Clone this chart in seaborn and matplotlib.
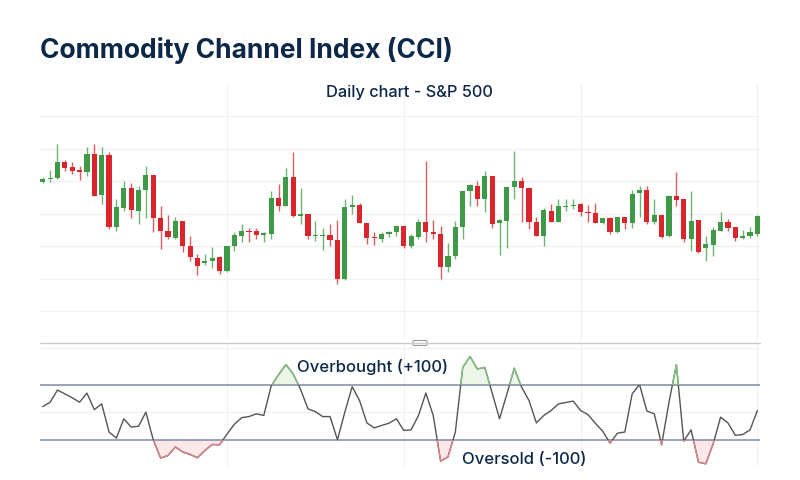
import numpy as np
import matplotlib
matplotlib.use("Agg")
import matplotlib.pyplot as plt
from matplotlib.lines import Line2D
from matplotlib.patches import Rectangle, FancyBboxPatch
import pandas as pd
import seaborn as sns

TITLE = "Commodity Channel Index (CCI)"
SUBTITLE = "Daily chart - S&P 500"
OVERBOUGHT_LABEL = "Overbought (+100)"
OVERSOLD_LABEL = "Oversold (-100)"

# daily candles, price in chart units
opens = [117, 120, 121, 137, 132, 129, 127, 145, 104, 144,
         72, 91, 111, 88, 109, 124, 81, 68, 61, 78,
         53, 41, 36, 38, 42, 28, 53, 63, 68, 68,
         64, 65, 101, 93, 122, 83, 85, 63, 63, 64,
         59, 20, 92, 94, 76, 62, 60, 65, 67, 73,
         53, 62, 77, 67, 65, 32, 43, 72, 108, 113,
         100, 123, 76, 78, 112, 118, 111, 77, 63, 88,
         77, 92, 93, 95, 87, 86, 76, 81, 67, 82,
         76, 106, 109, 77, 84, 63, 103, 100, 60, 79,
         51, 54, 68, 77, 72, 61, 63, 65]
closes = [120, 121, 137, 131, 128, 127, 145, 103, 144, 72,
          92, 111, 89, 109, 124, 81, 68, 62, 78, 53,
          42, 33, 38, 41, 28, 53, 64, 68, 67, 64,
          66, 101, 93, 122, 83, 85, 63, 64, 64, 59,
          20, 92, 94, 76, 61, 61, 65, 67, 73, 53,
          63, 77, 67, 65, 32, 43, 72, 108, 114, 100,
          123, 75, 79, 112, 118, 111, 77, 63, 89, 77,
          93, 93, 94, 87, 86, 76, 81, 67, 82, 76,
          105, 109, 77, 84, 62, 103, 99, 60, 78, 47,
          55, 69, 77, 71, 61, 63, 67, 83]
highs = [122, 129, 155, 139, 137, 133, 152, 155, 152, 147,
         100, 118, 116, 113, 133, 124, 93, 84, 82, 78,
         63, 45, 45, 52, 43, 53, 67, 75, 71, 71,
         67, 108, 115, 131, 147, 111, 85, 78, 71, 75,
         79, 100, 104, 96, 76, 67, 67, 68, 73, 73,
         65, 80, 138, 79, 73, 56, 78, 108, 115, 118,
         128, 123, 80, 112, 148, 122, 111, 82, 91, 95,
         100, 100, 100, 96, 94, 96, 81, 82, 82, 82,
         109, 113, 113, 100, 84, 104, 127, 100, 108, 79,
         63, 72, 87, 80, 72, 69, 72, 84]
lows = [116, 117, 120, 128, 125, 119, 123, 103, 95, 70,
        68, 88, 81, 75, 81, 67, 50, 60, 60, 47,
        38, 24, 34, 31, 25, 27, 48, 57, 57, 60,
        57, 60, 88, 93, 82, 75, 60, 58, 49, 53,
        15, 19, 85, 76, 55, 54, 57, 62, 63, 51,
        51, 60, 57, 60, 20, 27, 40, 60, 93, 93,
        87, 71, 44, 51, 100, 77, 70, 63, 53, 77,
        77, 88, 90, 83, 77, 76, 75, 65, 66, 70,
        71, 82, 75, 75, 61, 62, 93, 57, 48, 46,
        38, 43, 68, 68, 58, 60, 61, 63]

cci = [20, 36, 80, 66, 52, 36, 69, 9, 30, -72,
       -94, -24, -54, -51, 0, -100, -166, -157, -126, -144,
       -153, -165, -139, -117, -118, -80, -44, -20, -16, -6,
       -12, 94, 135, 172, 138, 82, 12, 2, -16, -16,
       -100, 0, 92, 42, -39, -57, -48, -40, -24, -66,
       -64, -12, 69, -12, -177, -162, -72, 162, 201, 156,
       162, 69, -24, 66, 159, 90, 42, -39, -12, 6,
       30, 35, 40, 6, -9, -40, -69, -112, -76, -72,
       66, 100, 4, -6, -118, 36, 172, -105, -64, -181,
       -187, -114, -18, -39, -84, -81, -64, 6]

OVERBOUGHT = 100
OVERSOLD = -100

NAVY = "#0c2748"
UP = "#3e9a46"
DOWN = "#d8262c"
GRID = "#f1f1f1"


def main():
    df = pd.DataFrame({"open": opens, "high": highs, "low": lows,
                       "close": closes, "cci": cci})
    df["day"] = np.arange(len(df))
    up = df["close"] >= df["open"]
    colors = np.where(up, UP, DOWN)

    sns.set_theme(style="white")
    plt.rcParams["font.family"] = ["Inter", "DejaVu Sans"]

    fig = plt.figure(figsize=(8, 4.81), dpi=100)
    ax1 = fig.add_axes([0.05, 0.291, 0.9, 0.532])
    ax2 = fig.add_axes([0.05, 0.029, 0.9, 0.254], sharex=ax1)

    # candles
    ax1.vlines(df["day"], df["low"], df["high"], colors=colors, lw=1, alpha=0.75, zorder=2)
    body = (df["close"] - df["open"]).abs().clip(lower=1.3)
    bottom = df[["open", "close"]].min(axis=1)
    ax1.bar(df["day"], body, bottom=bottom, width=0.7, color=colors, zorder=3, linewidth=0)

    ax1.set_xlim(-0.37, 97.35)
    ax1.set_ylim(-41, 215)
    ax1.set_xticks([25, 49, 73, 97])
    ax1.set_yticks(np.arange(-12, 200, 32.5))
    ax1.grid(True, color=GRID, lw=0.9)
    ax1.set_axisbelow(True)

    # CCI panel
    sns.lineplot(data=df, x="day", y="cci", ax=ax2, color="#555555", lw=1.0, zorder=3)
    for level, col in [(OVERBOUGHT, "#86c482"), (OVERSOLD, "#dd8489")]:
        ln, = ax2.plot(df["day"], df["cci"], color=col, lw=1.0, zorder=4)
        if level > 0:
            clip = Rectangle((-5, level), 110, 500, transform=ax2.transData)
        else:
            clip = Rectangle((-5, level - 500), 110, 500, transform=ax2.transData)
        ln.set_clip_path(clip)
    ax2.fill_between(df["day"], df["cci"], OVERBOUGHT, where=df["cci"] > OVERBOUGHT,
                     interpolate=True, color="#ebf6e8", lw=0, zorder=1)
    ax2.fill_between(df["day"], df["cci"], OVERSOLD, where=df["cci"] < OVERSOLD,
                     interpolate=True, color="#fce8e9", lw=0, zorder=1)
    ax2.axhline(OVERBOUGHT, color="#7d8ba0", lw=1.1, zorder=2)
    ax2.axhline(OVERSOLD, color="#7d8ba0", lw=1.1, zorder=2)

    ax2.set_ylim(-195, 247)
    ax2.set_yticks([0, 232])
    ax2.grid(True, color=GRID, lw=0.9)
    ax2.set_axisbelow(True)

    for ax in (ax1, ax2):
        for s in ax.spines.values():
            s.set_visible(False)
        ax.tick_params(length=0, labelbottom=False, labelleft=False)
        ax.set_xlabel("")
        ax.set_ylabel("")

    # panel separator with drag handle
    ysep = 1 - 344 / 481
    fig.add_artist(Line2D([0.05, 0.95], [ysep, ysep], color="#cccccc", lw=1.0))
    fig.add_artist(FancyBboxPatch((413 / 800, ysep - 2.5 / 481), 14 / 800, 5 / 481,
                                  boxstyle="round,pad=0,rounding_size=0.002",
                                  transform=fig.transFigure, facecolor="white",
                                  edgecolor="#9a9a9a", lw=0.8))

    fig.text(0.05, 1 - 50 / 481, TITLE, ha="left", va="center", fontsize=19,
             fontweight="bold", color=NAVY)
    fig.text(409 / 800, 1 - 92 / 481, SUBTITLE, ha="center", va="center",
             fontsize=11.8, fontweight="medium", color=NAVY)
    fig.text(297 / 800, 1 - 367 / 481, OVERBOUGHT_LABEL, ha="left", va="center",
             fontsize=12, fontweight="medium", color=NAVY)
    fig.text(462 / 800, 1 - 460 / 481, OVERSOLD_LABEL, ha="left", va="center",
             fontsize=12, fontweight="medium", color=NAVY)

    fig.savefig("out.png", dpi=100, facecolor="white")
    plt.close(fig)


if __name__ == "__main__":
    main()
